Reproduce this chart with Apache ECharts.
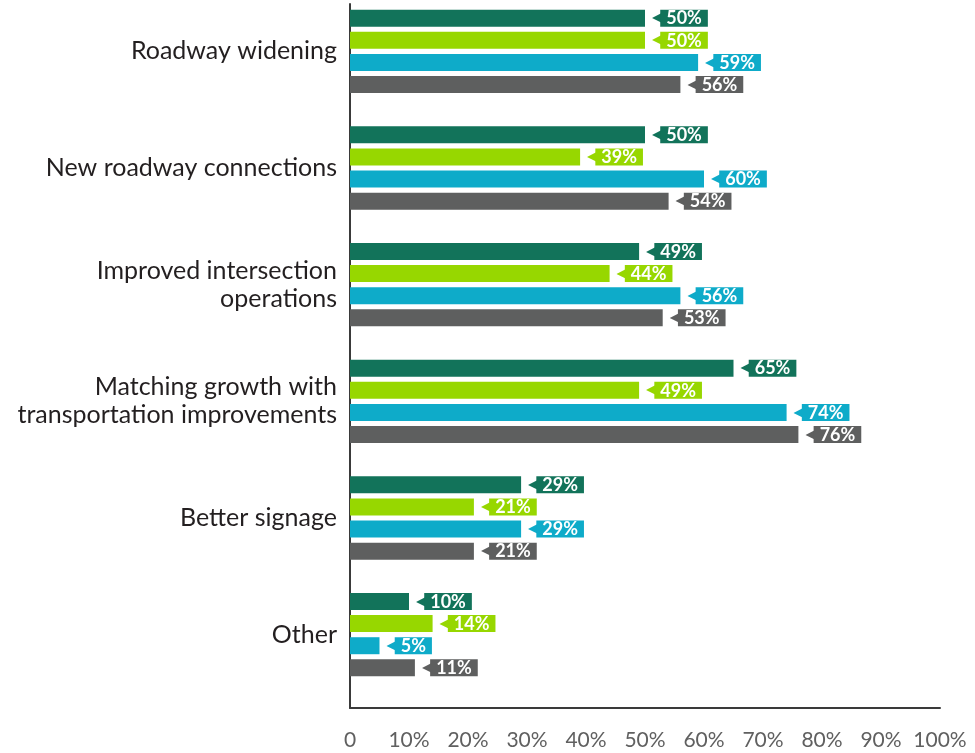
<!DOCTYPE html>
<html><head><meta charset="utf-8">
<script src="https://cdn.jsdelivr.net/npm/echarts@6/dist/echarts.min.js"></script>
<style>html,body{margin:0;padding:0;background:#fff}#c{width:975px;height:753px}</style>
</head><body><div id="c"></div>
<script>
const categories = ["Roadway widening","New roadway connections","Improved intersection\noperations","Matching growth with\ntransportation improvements","Better signage","Other"];
const seriesA = [50,50,49,65,29,10];
const seriesB = [50,39,44,49,21,14];
const seriesC = [59,60,56,74,29,5];
const seriesD = [56,54,53,76,21,11];
const tickValues = [0,10,20,30,40,50,60,70,80,90,100];
const colors = ['#12735a','#97d700','#0eabc9','#5e5f5f'];
const allSeries = [seriesA,seriesB,seriesC,seriesD];

const chart = echarts.init(document.getElementById('c'));
const FONT = 'Lato';
chart.setOption({
  animation:false,
  grid:[
    {left:350,width:590,top:-7,height:700,containLabel:false,outerBoundsMode:'none'},
    {left:350,width:590,top:4,bottom:45,containLabel:false,outerBoundsMode:'none'}
  ],
  xAxis:[
    {gridIndex:0,type:'value',min:0,max:100,show:false},
    {gridIndex:1,type:'value',min:0,max:100,interval:10,
     axisLine:{show:true,lineStyle:{color:'#3a3a3a',width:2}},
     axisTick:{show:false},splitLine:{show:false},
     axisLabel:{margin:22,fontFamily:FONT,fontSize:21,color:'#606060',
       formatter:v=>tickValues.includes(v)?(v===0?'0':v+'%'):''}}
  ],
  yAxis:[
    {gridIndex:0,type:'category',data:categories,inverse:true,
     axisLine:{show:false},axisTick:{show:false},
     axisLabel:{margin:13,fontFamily:FONT,fontSize:25,color:'#231f20',lineHeight:28,align:'right'}},
    {gridIndex:1,type:'value',min:0,max:1,
     axisLine:{show:true,lineStyle:{color:'#3a3a3a',width:2}},
     axisTick:{show:false},splitLine:{show:false},axisLabel:{show:false}}
  ],
  series: allSeries.map((d,i)=>({
    type:'bar',xAxisIndex:0,yAxisIndex:0,data:d,barWidth:17,barGap:'30%',
    itemStyle:{color:colors[i]},
    label:{show:true,position:'right',distance:7,
      formatter:p=>'{a|◀}{b|'+p.value+'%}',
      rich:{
        a:{color:colors[i],fontSize:12,fontFamily:'DejaVu Sans',padding:[0,-1,0,0]},
        b:{backgroundColor:colors[i],color:'#fff',fontFamily:FONT,fontWeight:'bold',fontSize:18,padding:[1,6,0,6],height:16,lineHeight:17}
      }}
  }))
});
</script></body></html>
